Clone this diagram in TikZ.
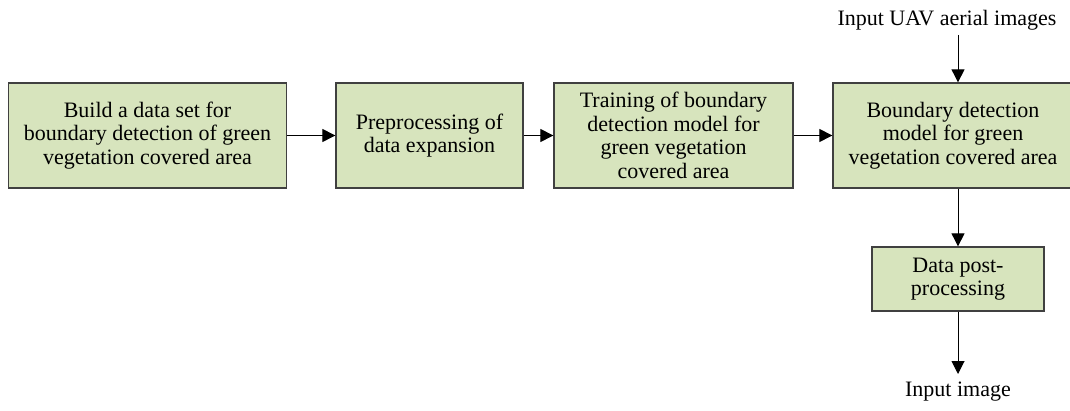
\documentclass[tikz,border=0pt]{standalone}
\usepackage{fontspec}
\setmainfont{Liberation Serif}
\usetikzlibrary{arrows.meta}
\definecolor{boxfill}{HTML}{D7E4BD}
\definecolor{boxline}{HTML}{404040}
\tikzset{
  stepbox/.style={draw=boxline, line width=1.3pt, fill=boxfill, align=center, inner sep=0pt,
    font=\fontsize{22}{23.5}\selectfont},
  conn/.style={draw=black, line width=1pt, -{Triangle[length=13pt,width=13pt]}},
  lbl/.style={font=\fontsize{22}{23.5}\selectfont, inner sep=0pt}
}
\begin{document}
\begin{tikzpicture}[x=1pt,y=-1pt]
\useasboundingbox (0,0) rectangle (1070,411);
\clip (0,0) rectangle (1070,411);
\node[stepbox, minimum width=278pt, minimum height=105pt] (b1) at (147.5,135.5)
  {Build a data set for\\boundary detection of green\\vegetation covered area};
\node[stepbox, minimum width=187pt, minimum height=105pt] (b2) at (429.5,135.5)
  {Preprocessing of\\data expansion};
\node[stepbox, minimum width=239pt, minimum height=105pt] (b3) at (673.5,135.5)
  {Training of boundary\\detection model for\\green vegetation\\covered area};
\node[stepbox, minimum width=240pt, minimum height=105pt] (b4) at (953,135.5)
  {Boundary detection\\model for green\\vegetation covered area};
\node[stepbox, minimum width=172pt, minimum height=64pt] (b5) at (958,279)
  {Data post-\\processing};
\node[lbl] (in) at (947,20) {Input UAV aerial images};
\node[lbl] (out) at (958,392) {Input image};
\coordinate (inA) at (958,35);
\coordinate (outA) at (958,374);
\draw[conn] (b1.east) -- (b2.west);
\draw[conn] (b2.east) -- (b3.west);
\draw[conn] (b3.east) -- (b4.west);
\draw[conn] (inA) -- (inA |- b4.north);
\draw[conn] (b4.south -| b5.north) -- (b5.north);
\draw[conn] (b5.south) -- (outA);
\end{tikzpicture}
\end{document}
